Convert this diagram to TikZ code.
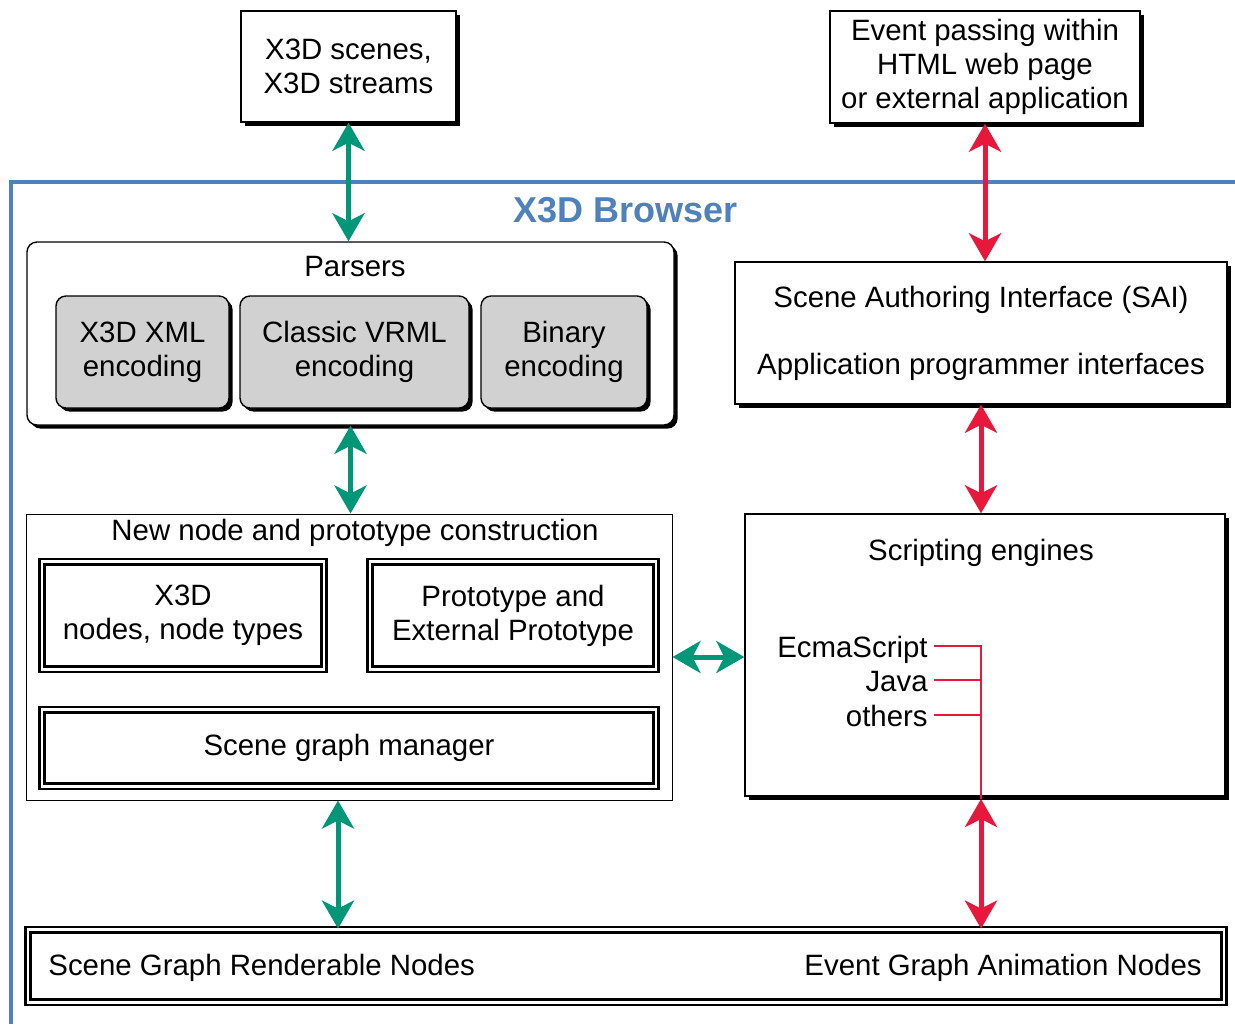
\documentclass[tikz,border=0pt]{standalone}
\usepackage{fontspec}
\setmainfont{Liberation Sans}
\usetikzlibrary{arrows.meta,shadows}

\definecolor{browserblue}{RGB}{79,129,189}
\definecolor{linkgreen}{RGB}{0,150,120}
\definecolor{linkred}{RGB}{232,23,60}

\begin{document}
\begin{tikzpicture}[x=0.5pt, y=-0.5pt,
    every node/.style={font=\fontsize{14.7}{17}\selectfont},
    shadowbox/.style={draw, line width=0.7pt, fill=white, align=center,
        drop shadow={shadow xshift=1.8pt, shadow yshift=-1.8pt, opacity=1, fill=black}},
    encbox/.style={shadowbox, fill=black!18, rounded corners=5pt, minimum height=56pt},
    dblbox/.style={draw, double, double distance=1.4pt, line width=1.2pt, align=center},
    link/.style={line width=2.5pt, {Stealth[length=14pt, width=16pt, inset=4pt]}-{Stealth[length=14pt, width=16pt, inset=4pt]}},
    glink/.style={link, linkgreen},
    rlink/.style={link, linkred},
    lang/.style={anchor=east, inner sep=3pt, text height=11.5pt, text depth=0pt},
    branch/.style={linkred, line width=1.3pt}]
    \useasboundingbox (0,0) rectangle (1235,1024);
    \draw[browserblue, line width=2pt] (1235,182) -- (11,182) -- (11,1024);
    \node[text=browserblue, font=\fontsize{18}{20}\selectfont\bfseries] (browser) at (626,210) {X3D Browser};

    \node[shadowbox, minimum width=107.5pt, minimum height=55.5pt] (scenes) at (348.5,66.5) {X3D scenes,\\X3D streams};
    \node[shadowbox, minimum width=155pt, minimum height=56pt] (events) at (985,67) {Event passing within\\HTML web page\\or external application};

    \node[shadowbox, rounded corners=5pt, minimum width=323.5pt, minimum height=91.5pt] (parsers) at (350.5,333.5) {};
    \node (parserstitle) at (355,267) {Parsers};
    \node[encbox, minimum width=86.5pt] (xml) at (142.5,352) {X3D XML\\encoding};
    \node[encbox, minimum width=114.5pt] (vrml) at (354.5,352) {Classic VRML\\encoding};
    \node[encbox, minimum width=83pt] (binary) at (564,352) {Binary\\encoding};

    \node[shadowbox, minimum width=246pt, minimum height=71pt] (sai) at (981,333) {Scene Authoring Interface (SAI)\\[16.5pt]Application programmer interfaces};

    \node[draw, line width=0.5pt, minimum width=323pt, minimum height=143pt] (newnode) at (349,657) {};
    \node (newnodetitle) at (355,533) {New node and prototype construction};
    \node[dblbox, minimum width=141pt, minimum height=53.7pt] (x3dnodes) at (183,615.5) {X3D\\nodes, node types};
    \node[dblbox, minimum width=143pt, minimum height=53.7pt] (proto) at (513,615.5) {Prototype and\\External Prototype};
    \node[dblbox, minimum width=307pt, minimum height=38.2pt] (sgm) at (349,748) {Scene graph manager};

    \node[shadowbox, minimum width=240pt, minimum height=141pt] (scripting) at (985,655) {};
    \node (scriptingtitle) at (981,553) {Scripting engines};
    \node[lang] (ecma) at (934,646) {EcmaScript};
    \node[lang] (java) at (934,680) {Java};
    \node[lang] (others) at (934,715) {others};
    \coordinate (trunk) at (981,799);

    \node[dblbox, minimum width=598pt, minimum height=36.2pt] (bottom) at (626,966) {};
    \node[anchor=west, inner sep=0pt] (renderable) at (48,968) {Scene Graph Renderable Nodes};
    \node[anchor=east, inner sep=0pt] (animation) at (1202,968) {Event Graph Animation Nodes};

    \draw[branch] (ecma.east) -| (trunk);
    \draw[branch] (java.east) -- (java.east -| trunk);
    \draw[branch] (others.east) -- (others.east -| trunk);

    \draw[glink] (scenes.south) -- (scenes.south |- parsers.north);
    \draw[glink] (parsers.south) -- (parsers.south |- newnode.north);
    \draw[glink] (newnode.east) -- (newnode.east -| scripting.west);
    \draw[glink] ([xshift=-5.5pt]newnode.south) -- ([xshift=-5.5pt]newnode.south |- bottom.north);
    \draw[rlink] (events.south) -- (events.south |- sai.north);
    \draw[rlink] (sai.south) -- (sai.south |- scripting.north);
    \draw[rlink] (trunk) -- (trunk |- bottom.north);
\end{tikzpicture}
\end{document}
